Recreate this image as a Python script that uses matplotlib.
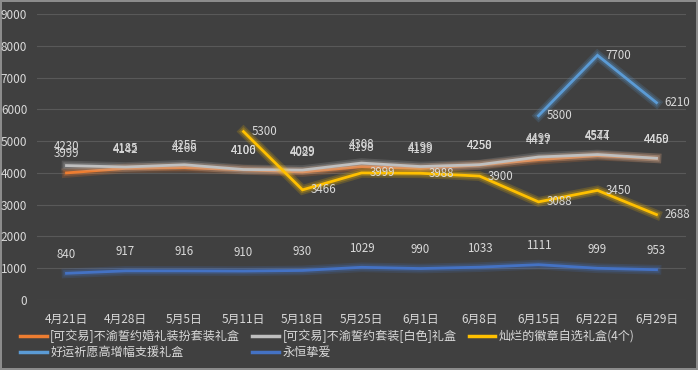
import matplotlib
matplotlib.use('Agg')
import matplotlib.pyplot as plt
import matplotlib.patheffects as pe
import numpy as np

plt.rcParams['font.family'] = ['Noto Sans CJK SC', 'DejaVu Sans']

dates = ['4月21日', '4月28日', '5月5日', '5月11日', '5月18日', '5月25日',
         '6月1日', '6月8日', '6月15日', '6月22日', '6月29日']

orange_vals = [3999, 4142, 4166, 4100, 4029, 4198, 4139, 4250, 4417, 4544, 4459]
gray_vals = [4230, 4185, 4255, 4106, 4089, 4308, 4199, 4258, 4499, 4577, 4460]
yellow_vals = [None, None, None, 5300, 3466, 3999, 3988, 3900, 3088, 3450, 2688]
lightblue_vals = [None] * 8 + [5800, 7700, 6210]
blue_vals = [840, 917, 916, 910, 930, 1029, 990, 1033, 1111, 999, 953]

names = ['[可交易]不渝誓约婚礼装扮套装礼盒', '[可交易]不渝誓约套装[白色]礼盒',
         '灿烂的徽章自选礼盒(4个)', '好运祈愿高增幅支援礼盒', '永恒挚爱']
colors = ['#ED7D31', '#BFBFBF', '#FFC000', '#5B9BD5', '#4472C4']

bg = '#404040'
txt = '#D9D9D9'

fig = plt.figure(figsize=(6.98, 3.70), dpi=100, facecolor=bg)
fig.patch.set_edgecolor('#8C8C8C')
fig.patch.set_linewidth(1.5)
ax = fig.add_axes([37 / 698, 1 - 300 / 370, (686 - 37) / 698, (300 - 14) / 370])
ax.set_facecolor(bg)

x = np.arange(len(dates))
series = [orange_vals, gray_vals, yellow_vals, lightblue_vals, blue_vals]
label_pos = ['above', 'above', 'right', 'right', 'above']

handles = []
for vals, name, c, pos in zip(series, names, colors, label_pos):
    xs = [i for i, v in zip(x, vals) if v is not None]
    ys = [v for v in vals if v is not None]
    glow = [pe.Stroke(linewidth=7, foreground=c, alpha=0.18),
            pe.Stroke(linewidth=4.5, foreground=c, alpha=0.25), pe.Normal()]
    line, = ax.plot(xs, ys, color=c, lw=2, label=name, path_effects=glow,
                    solid_joinstyle='miter', zorder=3)
    handles.append(line)
    for xi, yi in zip(xs, ys):
        if pos == 'above':
            ax.annotate(str(yi), (xi, yi), xytext=(0, 9), textcoords='offset points',
                        ha='center', va='bottom', color=txt, fontsize=8.3, zorder=4)
        else:
            ax.annotate(str(yi), (xi, yi), xytext=(6, 0), textcoords='offset points',
                        ha='left', va='center', color=txt, fontsize=8.3, zorder=4)

ax.set_xlim(-0.5, len(dates) - 0.5)
ax.set_ylim(0, 9000)
ax.set_yticks(range(0, 9001, 1000))
ax.set_xticks(x)
ax.set_xticklabels(dates)
ax.grid(axis='y', color='#595959', lw=0.8)
ax.set_axisbelow(True)
for s in ax.spines.values():
    s.set_visible(False)
ax.tick_params(colors=txt, labelsize=8.5, length=0)
ax.tick_params(axis='x', pad=9)
ax.tick_params(axis='y', pad=7)

# legend filled column-wise, so reorder to read row by row
order = [0, 3, 1, 4, 2]
leg = fig.legend([handles[i] for i in order], [names[i] for i in order],
                 loc='lower left', bbox_to_anchor=(0.013, 0.0), ncol=3,
                 frameon=False, fontsize=8.7, labelcolor=txt, handlelength=2.2,
                 handletextpad=0.3, columnspacing=1.0, labelspacing=0.25)
for h in leg.get_lines():
    h.set_path_effects([])
    h.set_linewidth(2.5)

fig.savefig('out.png', dpi=100, facecolor=bg, edgecolor='#8C8C8C')
